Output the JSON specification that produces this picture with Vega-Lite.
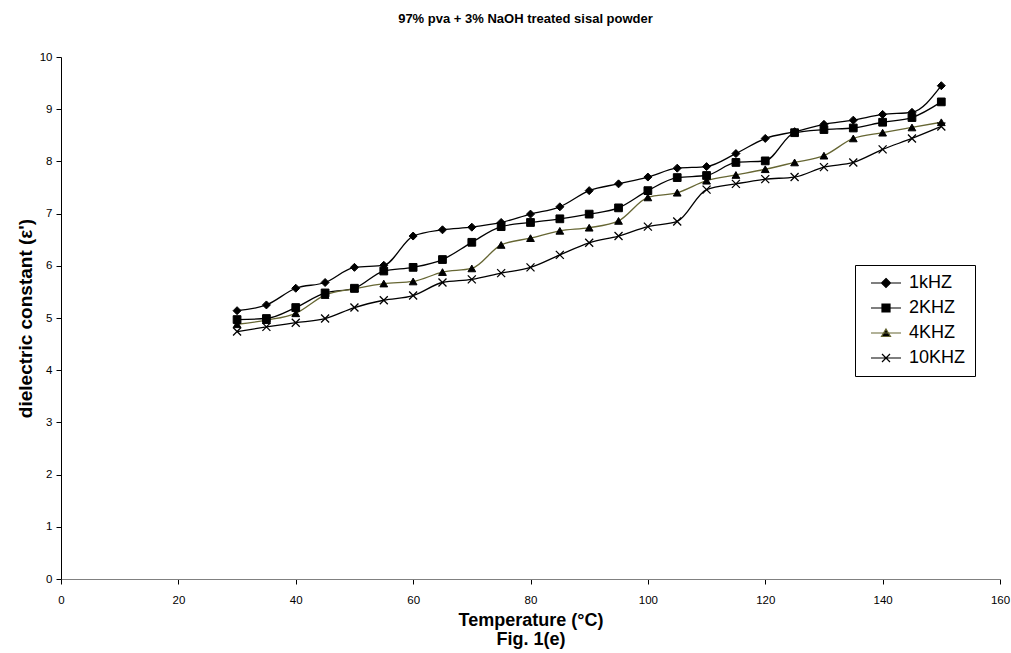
{
  "$schema": "https://vega.github.io/schema/vega-lite/v6.json",
  "autosize": {"type": "none"},
  "padding": {"left": 61, "top": 57, "right": 11, "bottom": 74},
  "width": 939,
  "height": 522,
  "background": "white",
  "title": {"text": "97% pva + 3% NaOH treated sisal powder", "font": "Liberation Sans", "fontSize": 13, "fontWeight": "bold", "color": "black", "offset": 25, "dx": -5},
  "config": {
    "view": {"stroke": null},
    "axis": {"grid": false, "labelFont": "Liberation Sans", "labelFontSize": 11.5, "labelColor": "black", "titleFont": "Liberation Sans", "titleFontSize": 18, "titleFontWeight": "bold", "titleColor": "black", "tickColor": "black", "tickSize": 5, "domainColor": "black", "labelPadding": 4}
  },
  "data": {"values": [
    {"t":30,"v":5.14,"s":"1kHZ"},{"t":35,"v":5.25,"s":"1kHZ"},{"t":40,"v":5.57,"s":"1kHZ"},{"t":45,"v":5.68,"s":"1kHZ"},{"t":50,"v":5.97,"s":"1kHZ"},{"t":55,"v":6.01,"s":"1kHZ"},{"t":60,"v":6.57,"s":"1kHZ"},{"t":65,"v":6.69,"s":"1kHZ"},{"t":70,"v":6.74,"s":"1kHZ"},{"t":75,"v":6.83,"s":"1kHZ"},{"t":80,"v":6.99,"s":"1kHZ"},{"t":85,"v":7.13,"s":"1kHZ"},{"t":90,"v":7.44,"s":"1kHZ"},{"t":95,"v":7.57,"s":"1kHZ"},{"t":100,"v":7.7,"s":"1kHZ"},{"t":105,"v":7.87,"s":"1kHZ"},{"t":110,"v":7.9,"s":"1kHZ"},{"t":115,"v":8.15,"s":"1kHZ"},{"t":120,"v":8.44,"s":"1kHZ"},{"t":125,"v":8.57,"s":"1kHZ"},{"t":130,"v":8.71,"s":"1kHZ"},{"t":135,"v":8.79,"s":"1kHZ"},{"t":140,"v":8.9,"s":"1kHZ"},{"t":145,"v":8.94,"s":"1kHZ"},{"t":150,"v":9.45,"s":"1kHZ"},
    {"t":30,"v":4.97,"s":"2KHZ"},{"t":35,"v":4.99,"s":"2KHZ"},{"t":40,"v":5.2,"s":"2KHZ"},{"t":45,"v":5.48,"s":"2KHZ"},{"t":50,"v":5.57,"s":"2KHZ"},{"t":55,"v":5.9,"s":"2KHZ"},{"t":60,"v":5.97,"s":"2KHZ"},{"t":65,"v":6.12,"s":"2KHZ"},{"t":70,"v":6.45,"s":"2KHZ"},{"t":75,"v":6.75,"s":"2KHZ"},{"t":80,"v":6.83,"s":"2KHZ"},{"t":85,"v":6.9,"s":"2KHZ"},{"t":90,"v":6.99,"s":"2KHZ"},{"t":95,"v":7.11,"s":"2KHZ"},{"t":100,"v":7.44,"s":"2KHZ"},{"t":105,"v":7.69,"s":"2KHZ"},{"t":110,"v":7.73,"s":"2KHZ"},{"t":115,"v":7.98,"s":"2KHZ"},{"t":120,"v":8.01,"s":"2KHZ"},{"t":125,"v":8.55,"s":"2KHZ"},{"t":130,"v":8.61,"s":"2KHZ"},{"t":135,"v":8.64,"s":"2KHZ"},{"t":140,"v":8.75,"s":"2KHZ"},{"t":145,"v":8.84,"s":"2KHZ"},{"t":150,"v":9.14,"s":"2KHZ"},
    {"t":30,"v":4.88,"s":"4KHZ"},{"t":35,"v":4.96,"s":"4KHZ"},{"t":40,"v":5.09,"s":"4KHZ"},{"t":45,"v":5.44,"s":"4KHZ"},{"t":50,"v":5.56,"s":"4KHZ"},{"t":55,"v":5.66,"s":"4KHZ"},{"t":60,"v":5.7,"s":"4KHZ"},{"t":65,"v":5.88,"s":"4KHZ"},{"t":70,"v":5.95,"s":"4KHZ"},{"t":75,"v":6.4,"s":"4KHZ"},{"t":80,"v":6.53,"s":"4KHZ"},{"t":85,"v":6.67,"s":"4KHZ"},{"t":90,"v":6.73,"s":"4KHZ"},{"t":95,"v":6.86,"s":"4KHZ"},{"t":100,"v":7.31,"s":"4KHZ"},{"t":105,"v":7.4,"s":"4KHZ"},{"t":110,"v":7.63,"s":"4KHZ"},{"t":115,"v":7.74,"s":"4KHZ"},{"t":120,"v":7.85,"s":"4KHZ"},{"t":125,"v":7.98,"s":"4KHZ"},{"t":130,"v":8.11,"s":"4KHZ"},{"t":135,"v":8.44,"s":"4KHZ"},{"t":140,"v":8.55,"s":"4KHZ"},{"t":145,"v":8.65,"s":"4KHZ"},{"t":150,"v":8.75,"s":"4KHZ"},
    {"t":30,"v":4.74,"s":"10KHZ"},{"t":35,"v":4.83,"s":"10KHZ"},{"t":40,"v":4.91,"s":"10KHZ"},{"t":45,"v":4.99,"s":"10KHZ"},{"t":50,"v":5.2,"s":"10KHZ"},{"t":55,"v":5.34,"s":"10KHZ"},{"t":60,"v":5.43,"s":"10KHZ"},{"t":65,"v":5.68,"s":"10KHZ"},{"t":70,"v":5.74,"s":"10KHZ"},{"t":75,"v":5.86,"s":"10KHZ"},{"t":80,"v":5.97,"s":"10KHZ"},{"t":85,"v":6.21,"s":"10KHZ"},{"t":90,"v":6.44,"s":"10KHZ"},{"t":95,"v":6.57,"s":"10KHZ"},{"t":100,"v":6.75,"s":"10KHZ"},{"t":105,"v":6.85,"s":"10KHZ"},{"t":110,"v":7.46,"s":"10KHZ"},{"t":115,"v":7.57,"s":"10KHZ"},{"t":120,"v":7.66,"s":"10KHZ"},{"t":125,"v":7.7,"s":"10KHZ"},{"t":130,"v":7.89,"s":"10KHZ"},{"t":135,"v":7.98,"s":"10KHZ"},{"t":140,"v":8.23,"s":"10KHZ"},{"t":145,"v":8.44,"s":"10KHZ"},{"t":150,"v":8.67,"s":"10KHZ"}
  ]},
  "encoding": {
    "x": {"field": "t", "type": "quantitative", "scale": {"domain": [0, 160], "nice": false}, "axis": {"values": [0,20,40,60,80,100,120,140,160], "labelFlush": false, "labelPadding": 10, "title": ["Temperature (°C)", "Fig. 1(e)"], "titleLineHeight": 19, "titlePadding": 6, "domainColor": "#808080"}},
    "y": {"field": "v", "type": "quantitative", "scale": {"domain": [0, 10], "nice": false}, "axis": {"values": [0,1,2,3,4,5,6,7,8,9,10], "title": "dielectric constant (ε')", "titleFontSize": 19, "titlePadding": 4}}
  },
  "layer": [
    {
      "mark": {"type": "line", "interpolate": "monotone", "strokeWidth": 1.3},
      "encoding": {
        "color": {"field": "s", "type": "nominal", "scale": {"domain": ["1kHZ","2KHZ","4KHZ","10KHZ"], "range": ["black","black","#666633","black"]},
          "legend": {"title": null, "orient": "none", "legendX": 794, "legendY": 208, "strokeColor": "black", "fillColor": "white", "padding": 9, "labelFont": "Liberation Sans", "labelFontSize": 18, "labelColor": "black", "symbolSize": 100, "symbolOffset": 13, "labelOffset": 14, "rowPadding": 7,
            "encode": {"symbols": {"update": {
              "shape": {"signal": "datum.value === '1kHZ' ? 'M-3,0L3,0M0,-0.9L0.9,0L0,0.9L-0.9,0Z' : datum.value === '2KHZ' ? 'M-3,0L3,0M-0.8,-0.8L0.8,-0.8L0.8,0.8L-0.8,0.8Z' : datum.value === '4KHZ' ? 'M-3,0L3,0M0,-0.8L0.9,0.7L-0.9,0.7Z' : 'M-3,0L3,0M-0.8,-0.8L0.8,0.8M-0.8,0.8L0.8,-0.8'"},
              "fill": {"value": "black"},
              "stroke": {"signal": "datum.value === '4KHZ' ? '#666633' : 'black'"},
              "strokeWidth": {"value": 1.2},
              "opacity": {"value": 1}
            }}}
          }
        },
        "detail": {"field": "s"}
      }
    },
    {
      "transform": [{"filter": "datum.s === '1kHZ'"}],
      "mark": {"type": "point", "shape": "diamond", "filled": true, "fill": "black", "stroke": "black", "strokeWidth": 1, "opacity": 1, "size": 64}
    },
    {
      "transform": [{"filter": "datum.s === '2KHZ'"}],
      "mark": {"type": "point", "shape": "square", "filled": true, "fill": "black", "stroke": "black", "strokeWidth": 1, "opacity": 1, "size": 60}
    },
    {
      "transform": [{"filter": "datum.s === '4KHZ'"}],
      "mark": {"type": "point", "shape": "triangle-up", "filled": true, "fill": "black", "stroke": "black", "strokeWidth": 1, "opacity": 1, "size": 60}
    },
    {
      "transform": [{"filter": "datum.s === '10KHZ'"}],
      "mark": {"type": "point", "shape": "M-1,-1L1,1M-1,1L1,-1", "filled": false, "stroke": "black", "strokeWidth": 1.3, "opacity": 1, "size": 64}
    }
  ]
}
